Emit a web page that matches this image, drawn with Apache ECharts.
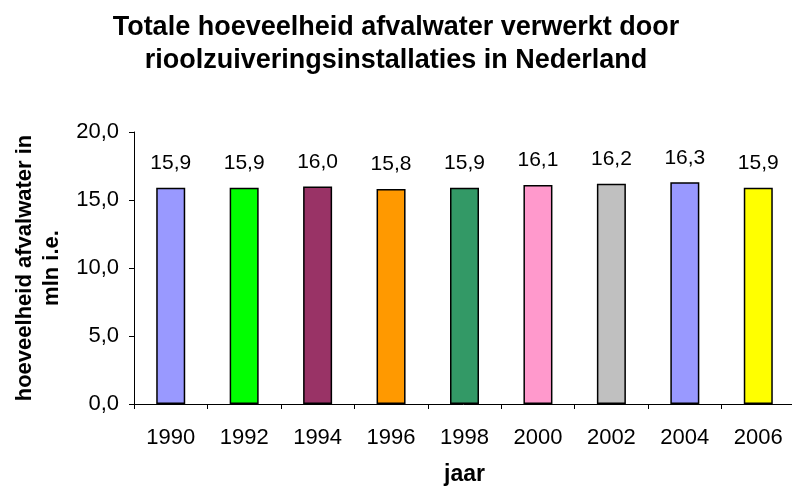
<!DOCTYPE html>
<html>
<head>
<meta charset="utf-8">
<script src="https://cdn.jsdelivr.net/npm/echarts@6/dist/echarts.min.js"></script>
<style>
  html, body { margin: 0; padding: 0; background: #fff; }
  #main { width: 792px; height: 487px; }
</style>
</head>
<body>
<div id="main"></div>
<script>
// jaren en hoeveelheden (mln i.e.)
var jaren = ['1990', '1992', '1994', '1996', '1998', '2000', '2002', '2004', '2006'];
var hoeveelheid = [15.9, 15.9, 16.0, 15.8, 15.9, 16.1, 16.2, 16.3, 15.9];
var yTicks = [0, 5, 10, 15, 20];

// kleuren per staaf
var kleuren = ['#9999FF', '#00FF00', '#993366', '#FF9900', '#339966', '#FF99CC', '#C0C0C0', '#9999FF', '#FFFF00'];

var font = 'Liberation Sans, Arial, sans-serif';
function komma(v) {
    return Number(v).toFixed(1).replace('.', ',');
}

var staven = hoeveelheid.map(function (v, i) {
    return { value: v, itemStyle: { color: kleuren[i] } };
});

var myChart = echarts.init(document.getElementById('main'));
myChart.setOption({
    backgroundColor: '#fff',
    animation: false,
    title: {
        text: 'Totale hoeveelheid afvalwater verwerkt door\nrioolzuiveringsinstallaties in Nederland',
        left: 'center',
        top: 6,
        textStyle: {
            fontFamily: font,
            fontSize: 27,
            fontWeight: 'bold',
            color: '#000',
            lineHeight: 33
        }
    },
    grid: {
        left: 134,
        top: 132,
        right: -3,
        bottom: 83,
        containLabel: false,
        outerBoundsMode: 'none'
    },
    xAxis: {
        type: 'category',
        data: jaren,
        name: 'jaar',
        nameLocation: 'middle',
        nameGap: 59,
        nameTextStyle: { fontFamily: font, fontSize: 23, fontWeight: 'bold', color: '#000' },
        axisLine: { lineStyle: { color: '#000', width: 1 } },
        axisTick: { show: true, length: 5, lineStyle: { color: '#000' } },
        axisLabel: { fontFamily: font, fontSize: 22, color: '#000', margin: 23 }
    },
    yAxis: {
        type: 'value',
        min: yTicks[0],
        max: yTicks[yTicks.length - 1],
        interval: 5,
        name: 'hoeveelheid afvalwater in\nmln i.e.',
        nameLocation: 'middle',
        nameGap: 67,
        nameTextStyle: { fontFamily: font, fontSize: 22, fontWeight: 'bold', color: '#000', lineHeight: 27 },
        splitLine: { show: false },
        axisLine: { show: true, lineStyle: { color: '#000', width: 1 } },
        axisTick: { show: true, length: 5, lineStyle: { color: '#000' } },
        axisLabel: { fontFamily: font, fontSize: 22, color: '#000', margin: 15, formatter: komma }
    },
    series: [{
        type: 'bar',
        data: staven,
        barWidth: 29,
        itemStyle: { borderColor: '#000', borderWidth: 1.5 },
        label: {
            show: true,
            position: 'top',
            distance: 14,
            fontFamily: font,
            fontSize: 21,
            color: '#000',
            formatter: function (p) { return komma(p.value); }
        }
    }]
});
</script>
</body>
</html>
